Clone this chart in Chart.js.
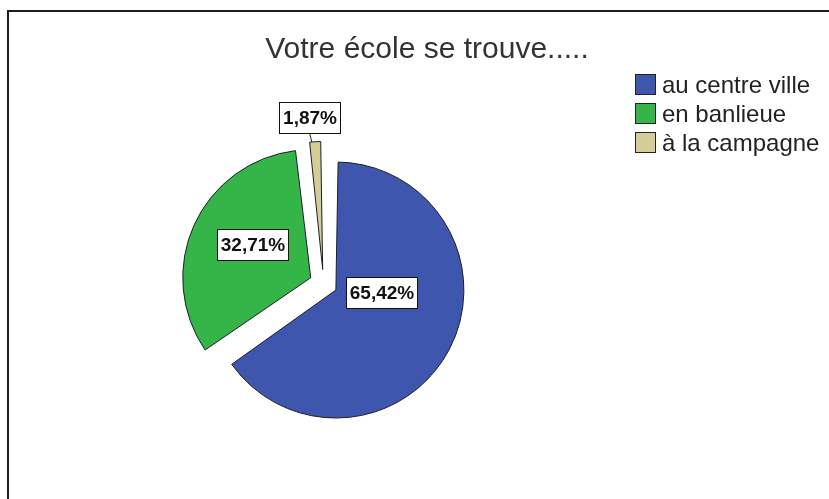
<!DOCTYPE html>
<html><head><meta charset="utf-8">
<script src="https://cdn.jsdelivr.net/npm/chart.js@4.4.1/dist/chart.umd.min.js"></script>
<style>html,body{margin:0;padding:0;background:#fff}#wrap{position:relative;width:829px;height:499px}</style>
</head><body><div id="wrap"><canvas id="c"></canvas></div>
<script>
const titleText = 'Votre école se trouve.....';
const categories = ['au centre ville', 'en banlieue', 'à la campagne'];
const percentValues = [65.42, 32.71, 1.87];
const sliceColors = ['#3e56ad', '#35b548', '#d4cd98'];

const R = 128;          // pie radius (px)
const OFFSET = 56;      // Chart.js v4 translates by offset/4 -> 14px explode
const labelAngleFrac = [0.40, 0.54, 0.28];
const labelRadiusFrac = [0.36, 0.52, 1.19];
const FONT = '"Liberation Sans", Arial, sans-serif';

const fixRadius = {
  id: 'fixRadius',
  beforeDatasetsDraw(chart) {
    chart.getDatasetMeta(0).data.forEach(arc => {
      const off = (arc.options.offset || 0) / 4;
      const fix = 1 - Math.sin(Math.min(Math.PI, arc.circumference));
      arc.outerRadius = R - off * fix;
    });
  }
};

const decor = {
  id: 'decor',
  beforeDraw(chart) {
    const ctx = chart.ctx;
    ctx.save();
    ctx.fillStyle = '#1c1c1c';
    ctx.fillRect(7, 10, chart.width - 7, 2);
    ctx.fillRect(7, 10, 2, chart.height - 10);
    ctx.restore();
  },
  afterDatasetsDraw(chart) {
    const ctx = chart.ctx;
    ctx.save();
    chart.getDatasetMeta(0).data.forEach((arc, i) => {
      const off = (arc.options.offset || 0) / 4;
      const mid = (arc.startAngle + arc.endAngle) / 2;
      const cx = arc.x + Math.cos(mid) * off, cy = arc.y + Math.sin(mid) * off;
      const a = arc.startAngle + (arc.endAngle - arc.startAngle) * labelAngleFrac[i];
      const lx = cx + Math.cos(a) * R * labelRadiusFrac[i];
      const ly = cy + Math.sin(a) * R * labelRadiusFrac[i];
      const txt = percentValues[i].toFixed(2).replace('.', ',') + '%';
      ctx.font = 'bold 19px ' + FONT;
      const w = Math.round(ctx.measureText(txt).width + 8), h = 32;
      const bx = Math.round(lx - w / 2), by = Math.round(ly - h / 2);
      if (labelRadiusFrac[i] > 1) {
        ctx.strokeStyle = '#222'; ctx.lineWidth = 1;
        ctx.beginPath();
        ctx.moveTo(lx, by + h);
        ctx.lineTo(cx + Math.cos(a) * R, cy + Math.sin(a) * R);
        ctx.stroke();
      }
      ctx.fillStyle = '#fff';
      ctx.fillRect(bx, by, w, h);
      ctx.strokeStyle = '#111'; ctx.lineWidth = 1;
      ctx.strokeRect(bx + 0.5, by + 0.5, w - 1, h - 1);
      ctx.fillStyle = '#111';
      ctx.textAlign = 'center'; ctx.textBaseline = 'middle';
      ctx.fillText(txt, bx + w / 2, by + h / 2 + 1);
    });
    ctx.restore();
  },
  afterDraw(chart) {
    const ctx = chart.ctx;
    ctx.save();
    ctx.font = '30px ' + FONT;
    ctx.fillStyle = '#333';
    ctx.textAlign = 'center'; ctx.textBaseline = 'alphabetic';
    ctx.fillText(titleText, 427, 58);
    ctx.font = '24px ' + FONT;
    ctx.textAlign = 'left'; ctx.textBaseline = 'middle';
    categories.forEach((c, i) => {
      const y = 74 + i * 29;
      ctx.fillStyle = sliceColors[i];
      ctx.fillRect(635, y, 21, 21);
      ctx.strokeStyle = '#222'; ctx.lineWidth = 1;
      ctx.strokeRect(635.5, y + 0.5, 20, 20);
      ctx.fillStyle = '#222';
      ctx.fillText(c, 662, y + 12);
    });
    ctx.restore();
  }
};

new Chart(document.getElementById('c'), {
  type: 'pie',
  data: {
    labels: categories,
    datasets: [{
      data: percentValues,
      backgroundColor: sliceColors,
      borderColor: '#1e1e2a',
      borderWidth: 1,
      offset: OFFSET,
      hoverOffset: 0,
      radius: R
    }]
  },
  options: {
    responsive: true,
    maintainAspectRatio: false,
    animation: false,
    radius: R,
    rotation: 0,
    layout: { padding: { left: 0, right: 182, top: 68, bottom: 0 } },
    plugins: { legend: { display: false }, title: { display: false }, tooltip: { enabled: false } },
    events: []
  },
  plugins: [fixRadius, decor]
});
</script>
</body></html>
